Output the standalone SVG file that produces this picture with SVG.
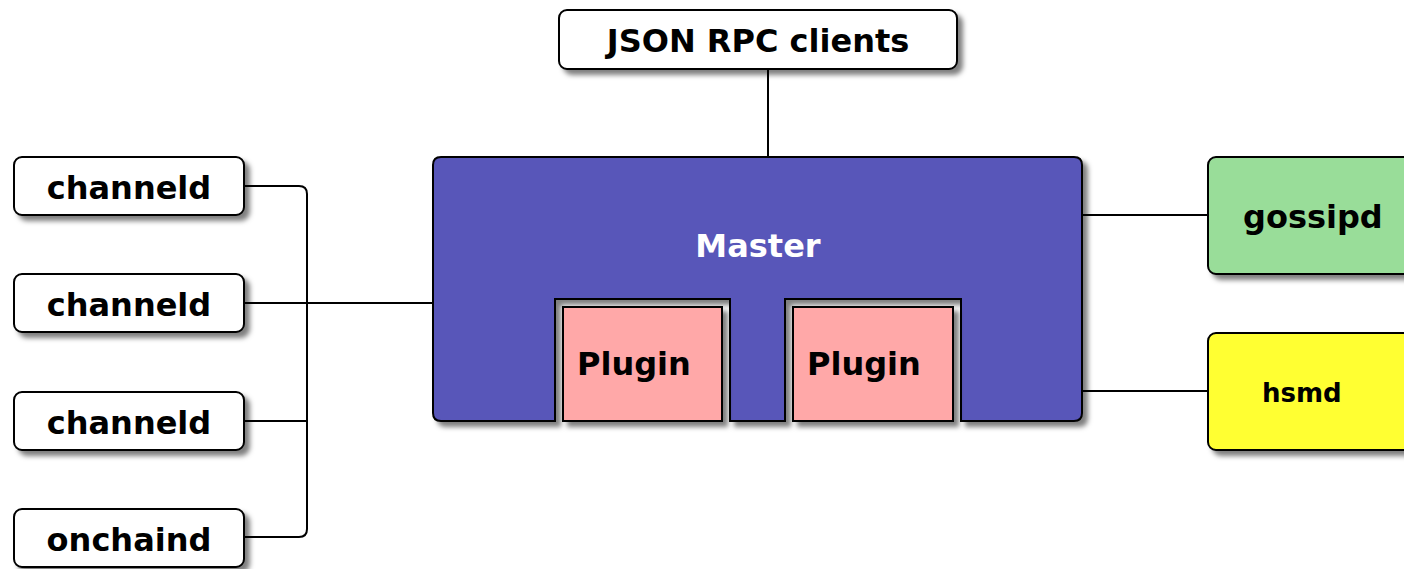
<svg xmlns="http://www.w3.org/2000/svg" width="1404" height="569" viewBox="0 0 1404 569">
<defs>
<filter id="sh" x="-10%" y="-10%" width="130%" height="140%">
<feDropShadow dx="5" dy="5" stdDeviation="2.5" flood-color="#000" flood-opacity="0.5"/>
</filter>
<style>
.box{stroke:#000;stroke-width:2;filter:url(#sh)}
.w{fill:#fff}
.t{font-family:"DejaVu Sans",sans-serif;font-weight:bold;font-size:32px;fill:#000}
.c{text-anchor:middle}
.ln{fill:none;stroke:#000;stroke-width:2}
</style>
</defs>
<rect width="1404" height="569" fill="#fff"/>
<g id="connectors">
<line class="ln" x1="768" y1="69" x2="768" y2="157"/>
<path class="ln" d="M245,186 H299 Q307,186 307,194 V529 Q307,537 299,537 H245"/>
<line class="ln" x1="245" y1="303" x2="433" y2="303"/>
<line class="ln" x1="245" y1="421" x2="307" y2="421"/>
<line class="ln" x1="1082" y1="215" x2="1208" y2="215"/>
<line class="ln" x1="1082" y1="391" x2="1208" y2="391"/>
</g>
<g id="json-rpc">
<rect class="box w" x="559" y="10" width="398" height="59" rx="8"/>
<text class="t c" x="758" y="52">JSON RPC clients</text>
</g>
<g id="master">
<path class="box" fill="#5856b9" d="M441,157 H1074 Q1082,157 1082,165 V413 Q1082,421 1074,421 H961 V299 H785 V421 H730 V299 H555 V421 H441 Q433,421 433,413 V165 Q433,157 441,157 Z"/>
<text class="t c" x="758" y="257" style="fill:#fff">Master</text>
</g>
<g id="plugin1">
<rect class="box" fill="#ffa8a8" x="563" y="307" width="159" height="114"/>
<text class="t" x="577" y="375">Plugin</text>
</g>
<g id="plugin2">
<rect class="box" fill="#ffa8a8" x="793" y="307" width="160" height="114"/>
<text class="t" x="807" y="375">Plugin</text>
</g>
<g id="channeld1">
<rect class="box w" x="14" y="157" width="230" height="58" rx="8"/>
<text class="t c" x="129" y="199">channeld</text>
</g>
<g id="channeld2">
<rect class="box w" x="14" y="274" width="230" height="58" rx="8"/>
<text class="t c" x="129" y="316">channeld</text>
</g>
<g id="channeld3">
<rect class="box w" x="14" y="392" width="230" height="58" rx="8"/>
<text class="t c" x="129" y="434">channeld</text>
</g>
<g id="onchaind">
<rect class="box w" x="14" y="509" width="230" height="58" rx="8"/>
<text class="t c" x="129" y="551">onchaind</text>
</g>
<g id="gossipd">
<rect class="box" fill="#99dd99" x="1208" y="157" width="220" height="117" rx="8"/>
<text class="t" x="1243" y="228">gossipd</text>
</g>
<g id="hsmd">
<rect class="box" fill="#ffff33" x="1208" y="333" width="220" height="117" rx="8"/>
<text class="t" x="1262" y="402" style="font-size:26px">hsmd</text>
</g>
</svg>
